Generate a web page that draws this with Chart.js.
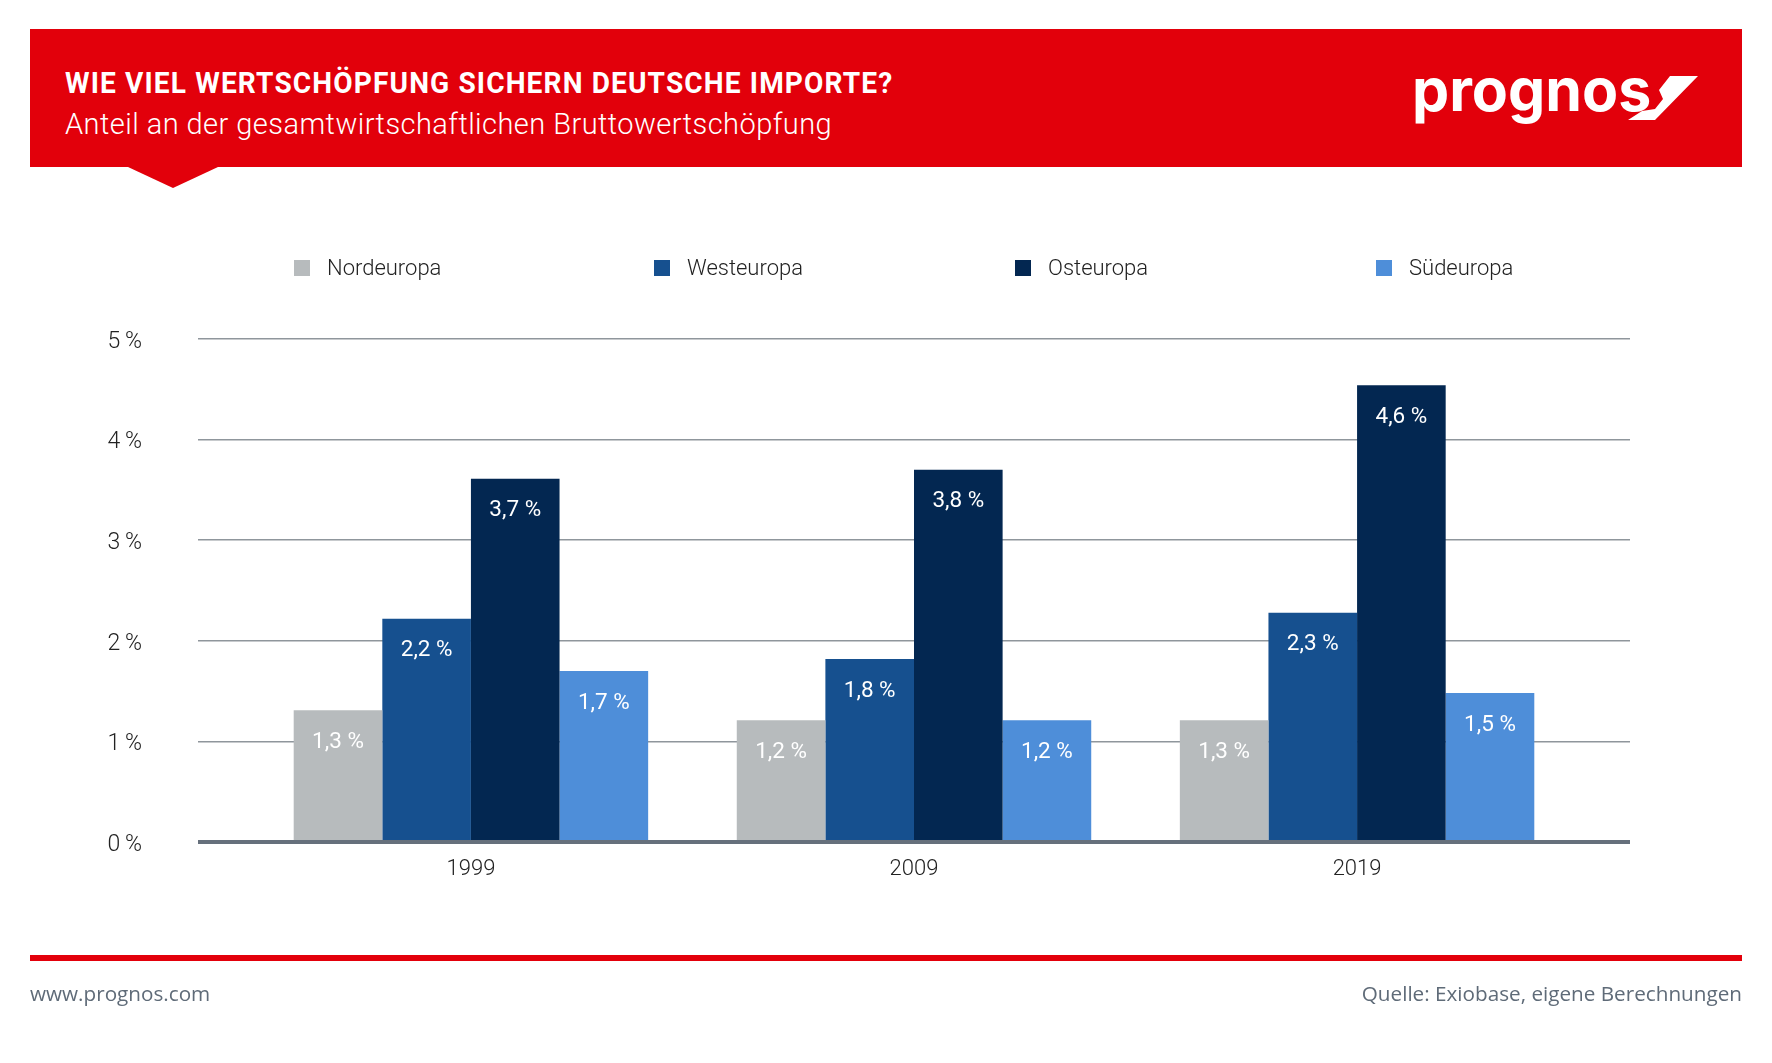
<!DOCTYPE html>
<html lang="de">
<head>
<meta charset="utf-8">
<title>Prognos</title>
<script src="https://cdn.jsdelivr.net/npm/chart.js@4"></script>
<style>
  html, body { margin: 0; background: #fff; }
  #page { position: relative; width: 1772px; height: 1063px; overflow: hidden; font-family: Roboto, sans-serif; }
  #graph { position: absolute; left: 0; top: 0; }
  #banner { position: absolute; left: 30px; top: 29px; width: 1712px; height: 138px; background: #e2000b; }
  #notch { position: absolute; left: 128px; top: 167px; width: 90px; height: 21px; background: #e2000b; clip-path: polygon(0 0, 100% 0, 50% 100%); }
  #title { position: absolute; left: 65px; top: 65px; color: #fff; font: 700 30px Roboto, sans-serif; letter-spacing: 1.2px; white-space: nowrap; transform: scaleX(.936); transform-origin: left top; }
  #subtitle { position: absolute; left: 65px; top: 107px; color: #fff; font: 300 29px Roboto, sans-serif; letter-spacing: .45px; white-space: nowrap; }
  #logo { position: absolute; left: 1412px; top: 54px; color: #fff; font: 700 59px Inter, sans-serif; letter-spacing: 0; white-space: nowrap; }
  #slash { position: absolute; left: 0; top: 0; }
  .legend-item { position: absolute; top: 255px; height: 26px; font: 300 22px/26px Roboto, sans-serif; color: #222; white-space: nowrap; padding-left: 33px; }
  .legend-item i { position: absolute; left: 0; top: 5px; width: 16px; height: 16px; }
  #rule { position: absolute; left: 30px; top: 955px; width: 1712px; height: 6px; background: #e3000b; }
  .foot { position: absolute; top: 979px; font: 400 20.7px/28px "Open Sans", sans-serif; color: #5f6b78; white-space: nowrap; }
</style>
</head>
<body>
<div id="page">
  <div id="banner"></div>
  <div id="notch"></div>
  <div id="title">WIE VIEL WERTSCHÖPFUNG SICHERN DEUTSCHE IMPORTE?</div>
  <div id="subtitle">Anteil an der gesamtwirtschaftlichen Bruttowertschöpfung</div>
  <svg id="slash" width="1772" height="200"><polygon points="1670,76 1698,76 1655,120 1628,120 1642,111 1655,109 1663,99 1659,90" fill="#fff"/></svg>
  <div id="logo">prognos</div>
  <canvas id="graph" width="1772" height="1063"></canvas>
  <div id="legend"></div>
  <div id="rule"></div>
  <div class="foot" style="left:30px">www.prognos.com</div>
  <div class="foot" style="right:30px">Quelle: Exiobase, eigene Berechnungen</div>
</div>
<script>
const years = [1999, 2009, 2019];
const seriesNames = ["Nordeuropa", "Westeuropa", "Osteuropa", "Südeuropa"];
const colors = ["#b7bbbd", "#16508f", "#032751", "#4e8ed9"];

// bar heights, they differ a bit from the printed labels
const nord = [1.31, 1.21, 1.21];
const west = [2.22, 1.82, 2.28];
const ost = [3.61, 3.70, 4.54];
const sued = [1.70, 1.21, 1.48];
const values = [nord, west, ost, sued];

const nordLabels = ["1,3 %", "1,2 %", "1,3 %"];
const westLabels = ["2,2 %", "1,8 %", "2,3 %"];
const ostLabels = ["3,7 %", "3,8 %", "4,6 %"];
const suedLabels = ["1,7 %", "1,2 %", "1,5 %"];
const barLabels = [nordLabels, westLabels, ostLabels, suedLabels];

const legendLeft = [294, 654, 1015, 1376];

seriesNames.forEach((name, i) => {
  const item = document.createElement("div");
  item.className = "legend-item";
  item.style.left = legendLeft[i] + "px";
  item.innerHTML = '<i style="background:' + colors[i] + '"></i>' + name;
  document.getElementById("legend").appendChild(item);
});

const barLabelPlugin = {
  id: "barLabels",
  afterDatasetsDraw(chart) {
    const ctx = chart.ctx;
    const area = chart.chartArea;
    const zero = chart.scales.y.getPixelForValue(0);
    ctx.save();
    // thick baseline over the feet of the bars
    ctx.strokeStyle = "#66707c";
    ctx.lineWidth = 4;
    ctx.beginPath();
    ctx.moveTo(area.left, zero);
    ctx.lineTo(area.right, zero);
    ctx.stroke();

    ctx.fillStyle = "#fff";
    ctx.font = "400 22.5px Roboto, sans-serif";
    ctx.textAlign = "center";
    ctx.textBaseline = "middle";
    chart.data.datasets.forEach((ds, i) => {
      chart.getDatasetMeta(i).data.forEach((bar, j) => {
        ctx.fillText(barLabels[i][j], bar.x, bar.y + 32);
      });
    });
    ctx.restore();
  }
};

new Chart(document.getElementById("graph"), {
  type: "bar",
  data: {
    labels: years,
    datasets: seriesNames.map((name, i) => ({
      label: name,
      data: values[i],
      backgroundColor: colors[i],
      categoryPercentage: 0.8,
      barPercentage: 1
    }))
  },
  options: {
    responsive: false,
    animation: false,
    layout: { padding: { left: 0, right: 142, top: 339, bottom: 171 } },
    plugins: { legend: { display: false }, tooltip: { enabled: false } },
    scales: {
      x: {
        type: "linear",
        offset: false,
        // wider than the three groups so the gridlines run past the bars
        min: 1992.84,
        max: 2025.16,
        grid: { display: false, offset: false },
        border: { display: false },
        afterBuildTicks: (scale) => { scale.ticks = years.map((y) => ({ value: y })); },
        afterFit: (scale) => { scale.height = 50; },
        ticks: {
          autoSkip: false,
          maxRotation: 0,
          padding: 6,
          color: "#222",
          font: { family: "Roboto", size: 22, weight: 300 },
          callback: (v) => String(v)
        }
      },
      y: {
        min: 0,
        max: 5,
        afterFit: (scale) => { scale.width = 198; },
        grid: { color: "#8f969c", lineWidth: 1.5, drawTicks: false },
        border: { display: false },
        ticks: {
          stepSize: 1,
          padding: 56,
          labelOffset: 3,
          color: "#222",
          font: { family: "Roboto", size: 23, weight: 300 },
          callback: (v) => v + "\u2009%"
        }
      }
    }
  },
  plugins: [barLabelPlugin]
});
</script>
</body>
</html>
